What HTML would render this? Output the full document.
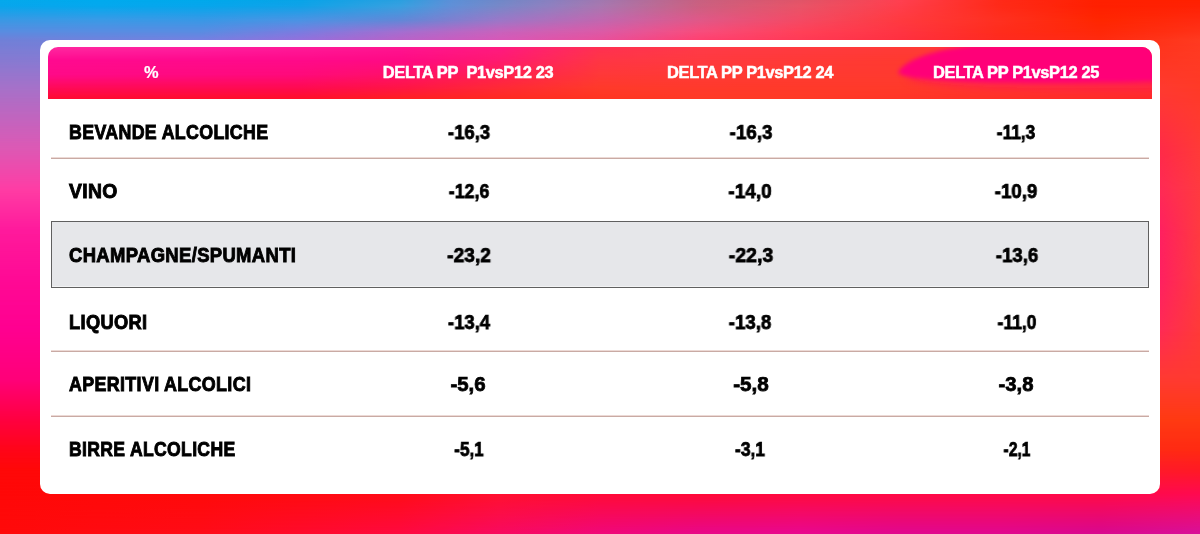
<!DOCTYPE html>
<html><head><meta charset="utf-8">
<style>
html,body{margin:0;padding:0;}
body{width:1200px;height:534px;overflow:hidden;position:relative;font-family:"Liberation Sans",Arial,sans-serif;}
.m{position:absolute;left:0;top:0;width:1200px;height:534px;}
#card{position:absolute;left:40px;top:40px;width:1120px;height:454px;background:#fff;border-radius:10px;}
#head{position:absolute;left:48px;top:47px;width:1104px;height:52px;border-radius:10px 10px 0 0;overflow:hidden;}
.hm{position:absolute;left:0;top:0;width:1104px;height:52px;}
#blob{position:absolute;left:0;top:0;}
.h{position:absolute;will-change:transform;top:61.9px;color:#fff;font-weight:bold;font-size:16.4px;line-height:20px;white-space:nowrap;transform:translateX(-50%);-webkit-text-stroke:0.5px #fff;letter-spacing:-0.35px;}
.lab{position:absolute;left:69px;font-weight:bold;font-size:21px;line-height:24px;color:#000;white-space:nowrap;transform-origin:0 50%;letter-spacing:0.4px;-webkit-text-stroke:0.95px #000;}
.num{position:absolute;will-change:transform;font-weight:bold;font-size:20px;line-height:24px;color:#000;white-space:nowrap;transform:translateX(-50%);letter-spacing:0px;-webkit-text-stroke:0.75px #000;}
.div{position:absolute;left:51px;width:1098px;height:2px;background:linear-gradient(180deg,#ecd9d5 0,#ecd9d5 50%,#c9aaa4 50%,#c9aaa4 100%);}
#hl{position:absolute;left:51px;top:221px;width:1096px;height:65px;background:#e6e7ea;border:1px solid #606060;box-shadow:inset 0 -1px 0 #f2f3f4;}
</style></head>
<body>
<div class="m" style="background:linear-gradient(90deg,#04a8ec 0px,#00aaee 100px,#00a8ec 200px,#08a4e8 300px,#2aa0e0 400px,#5a90d8 450px,#7088c8 500px,#8880c0 550px,#a078b0 600px,#c86080 700px,#e05468 800px,#ff4050 900px,#ff2a18 1000px,#ff2000 1100px,#ff2000 1200px)"></div>
<div class="m" style="background:linear-gradient(90deg,#08a6ec 0px,#04a8ee 100px,#06a6ec 200px,#10a2e8 300px,#38a0e0 400px,#6090d8 450px,#7888c8 500px,#9080c0 550px,#a878b0 600px,#cc6080 700px,#e85468 800px,#ff3e4c 900px,#ff2a18 1000px,#ff2000 1100px,#ff2204 1200px);-webkit-mask-image:linear-gradient(180deg,transparent 0px,#000 6px);mask-image:linear-gradient(180deg,transparent 0px,#000 6px)"></div>
<div class="m" style="background:linear-gradient(90deg,#3a98e4 0px,#3a9ae6 100px,#3898e6 200px,#4a94e4 300px,#6088d8 400px,#9a78c8 500px,#c068b0 600px,#e05888 700px,#f44a64 800px,#ff3a40 900px,#ff3020 1000px,#ff2600 1100px,#ff2a10 1200px);-webkit-mask-image:linear-gradient(180deg,transparent 6px,#000 20px);mask-image:linear-gradient(180deg,transparent 6px,#000 20px)"></div>
<div class="m" style="background:linear-gradient(90deg,#5a8ce0 0px,#5a8ce2 100px,#5a8ce2 200px,#7a7ce0 300px,#a46ed0 400px,#c862bc 500px,#dc5aa6 600px,#f84c7c 700px,#ff4058 800px,#ff3442 900px,#ff2c1c 1000px,#ff2808 1100px,#ff3218 1200px);-webkit-mask-image:linear-gradient(180deg,transparent 20px,#000 32px);mask-image:linear-gradient(180deg,transparent 20px,#000 32px)"></div>
<div class="m" style="background:linear-gradient(90deg,#7080d8 0px,#7082dc 100px,#7680e0 200px,#9470dc 300px,#b862c8 400px,#d858b8 500px,#e8509c 600px,#ff4070 700px,#ff3a56 800px,#ff3040 900px,#ff2a20 1000px,#ff2a10 1100px,#ff3a20 1200px);-webkit-mask-image:linear-gradient(180deg,transparent 32px,#000 40px);mask-image:linear-gradient(180deg,transparent 32px,#000 40px)"></div>
<div class="m" style="background:linear-gradient(90deg,#a870c8 0px,#a870c8 40px,#ff3a30 1160px,#ff3a28 1200px);-webkit-mask-image:linear-gradient(180deg,transparent 40px,#000 90px);mask-image:linear-gradient(180deg,transparent 40px,#000 90px)"></div>
<div class="m" style="background:linear-gradient(90deg,#de58b4 0px,#de58b4 40px,#ff2a48 1160px,#ff3a38 1200px);-webkit-mask-image:linear-gradient(180deg,transparent 90px,#000 150px);mask-image:linear-gradient(180deg,transparent 90px,#000 150px)"></div>
<div class="m" style="background:linear-gradient(90deg,#ff3ca4 0px,#ff3ca4 40px,#ff2a55 1160px,#ff3a40 1200px);-webkit-mask-image:linear-gradient(180deg,transparent 150px,#000 190px);mask-image:linear-gradient(180deg,transparent 150px,#000 190px)"></div>
<div class="m" style="background:linear-gradient(90deg,#ff1a9c 0px,#ff1a9c 40px,#ff2060 1160px,#ff3a40 1200px);-webkit-mask-image:linear-gradient(180deg,transparent 190px,#000 230px);mask-image:linear-gradient(180deg,transparent 190px,#000 230px)"></div>
<div class="m" style="background:linear-gradient(90deg,#ff0a95 0px,#ff0a95 40px,#ff2060 1160px,#ff3a40 1200px);-webkit-mask-image:linear-gradient(180deg,transparent 230px,#000 280px);mask-image:linear-gradient(180deg,transparent 230px,#000 280px)"></div>
<div class="m" style="background:linear-gradient(90deg,#ff0090 0px,#ff0090 40px,#ff2a55 1160px,#ff3a38 1200px);-webkit-mask-image:linear-gradient(180deg,transparent 280px,#000 330px);mask-image:linear-gradient(180deg,transparent 280px,#000 330px)"></div>
<div class="m" style="background:linear-gradient(90deg,#ff0078 0px,#ff0078 40px,#ff3a30 1160px,#ff3a30 1200px);-webkit-mask-image:linear-gradient(180deg,transparent 330px,#000 380px);mask-image:linear-gradient(180deg,transparent 330px,#000 380px)"></div>
<div class="m" style="background:linear-gradient(90deg,#ff0040 0px,#ff0040 40px,#ff3a12 1160px,#ff3a12 1200px);-webkit-mask-image:linear-gradient(180deg,transparent 380px,#000 420px);mask-image:linear-gradient(180deg,transparent 380px,#000 420px)"></div>
<div class="m" style="background:linear-gradient(90deg,#ff0518 0px,#ff0518 40px,#ff2a14 1160px,#ff2a12 1200px);-webkit-mask-image:linear-gradient(180deg,transparent 420px,#000 450px);mask-image:linear-gradient(180deg,transparent 420px,#000 450px)"></div>
<div class="m" style="background:linear-gradient(90deg,#ff0808 0px,#ff0808 40px,#ff1a28 1160px,#ff1a24 1200px);-webkit-mask-image:linear-gradient(180deg,transparent 450px,#000 470px);mask-image:linear-gradient(180deg,transparent 450px,#000 470px)"></div>
<div class="m" style="background:linear-gradient(90deg,#ff0808 0px,#ff0a0a 200px,#ff0c18 400px,#ff1030 500px,#ff0a38 600px,#ff0a38 700px,#ff0a40 800px,#ff0a45 900px,#ff0a48 1000px,#ff0a48 1100px,#ff0a50 1200px);-webkit-mask-image:linear-gradient(180deg,transparent 470px,#000 494px);mask-image:linear-gradient(180deg,transparent 470px,#000 494px)"></div>
<div class="m" style="background:linear-gradient(90deg,#ff0a0a 0px,#ff0c18 200px,#ff0a40 400px,#f80a60 500px,#f0087a 600px,#e8088a 700px,#e80890 800px,#e00890 900px,#e00890 1000px,#d80890 1100px,#d8109a 1200px);-webkit-mask-image:linear-gradient(180deg,transparent 494px,#000 534px);mask-image:linear-gradient(180deg,transparent 494px,#000 534px)"></div>
<div id="card"></div>
<div id="head"><div class="hm" style="background:linear-gradient(90deg,#ff2aa0 0px,#ff20a0 152px,#ff1590 352px,#ff1a80 452px,#ff3052 552px,#ff3a48 652px,#ff3a40 752px,#ff3a38 852px,#ff3a38 1104px)"></div>
<div class="hm" style="background:linear-gradient(90deg,#ff0a90 0px,#ff0a8a 252px,#ff0a85 352px,#ff1a70 452px,#ff3545 552px,#ff3a40 652px,#ff3a38 752px,#ff3a30 852px,#ff3a30 1104px);-webkit-mask-image:linear-gradient(180deg,transparent 0px,#000 13px);mask-image:linear-gradient(180deg,transparent 0px,#000 13px)"></div>
<div class="hm" style="background:linear-gradient(90deg,#ff0a88 0px,#ff0a7a 252px,#ff1068 352px,#ff2050 452px,#ff3838 552px,#ff3a35 652px,#ff3a30 752px,#ff3a30 852px,#ff3030 1104px);-webkit-mask-image:linear-gradient(180deg,transparent 13px,#000 28px);mask-image:linear-gradient(180deg,transparent 13px,#000 28px)"></div>
<div class="hm" style="background:linear-gradient(90deg,#ff0a58 0px,#ff0a50 252px,#ff1545 352px,#ff2a35 452px,#ff3a2a 552px,#ff3a2c 652px,#ff3a2a 752px,#ff3a2a 852px,#ff3030 1104px);-webkit-mask-image:linear-gradient(180deg,transparent 28px,#000 41px);mask-image:linear-gradient(180deg,transparent 28px,#000 41px)"></div>
<div class="hm" style="background:linear-gradient(90deg,#ff0a30 0px,#ff1028 252px,#ff2020 352px,#ff2a20 452px,#ff3520 552px,#ff3a25 652px,#ff3a25 752px,#ff2a2a 1104px);-webkit-mask-image:linear-gradient(180deg,transparent 41px,#000 52px);mask-image:linear-gradient(180deg,transparent 41px,#000 52px)"></div>
<svg id="blob" width="1104" height="52" viewBox="48 47 1104 52"><defs><filter id="fb" x="-20%" y="-50%" width="140%" height="200%"><feGaussianBlur stdDeviation="2.2"/></filter><filter id="fb2" x="-20%" y="-50%" width="140%" height="200%"><feGaussianBlur stdDeviation="5"/></filter></defs>
<path d="M905,77 C930,86 1000,90 1160,88 L1160,60 L960,60 Z" fill="#ff0a6a" opacity="0.5" filter="url(#fb2)"/>
<path d="M898,73 C903,61 930,50 975,45 L1160,40 L1160,81 C1080,83 1000,83 960,81 C930,79 906,79 898,73 Z" fill="#ff0478" filter="url(#fb)"/></svg>
</div>
<div class="h" style="left:151px;-webkit-text-stroke:0.2px #fff">%</div>
<div class="h" style="left:467.7px">DELTA PP&nbsp; P1vsP12 23</div>
<div class="h" style="left:749.5px">DELTA PP P1vsP12 24</div>
<div class="h" style="left:1015.5px">DELTA PP P1vsP12 25</div>

<div id="hl"></div>
<div class="div" style="top:157px"></div>
<div class="div" style="top:350px"></div>
<div class="div" style="top:415px"></div>

<div class="lab" style="top:120px;transform:scaleX(0.847)">BEVANDE ALCOLICHE</div>
<div class="num" style="top:120px;left:469.25px;transform:translateX(-50%) scaleX(0.924)">-16,3</div>
<div class="num" style="top:120px;left:750.70px;transform:translateX(-50%) scaleX(0.939)">-16,3</div>
<div class="num" style="top:120px;left:1016.20px;transform:translateX(-50%) scaleX(0.868)">-11,3</div>

<div class="lab" style="top:179px;transform:scaleX(0.921)">VINO</div>
<div class="num" style="top:179px;left:468.65px;transform:translateX(-50%) scaleX(0.889)">-12,6</div>
<div class="num" style="top:179px;left:750.35px;transform:translateX(-50%) scaleX(0.950)">-14,0</div>
<div class="num" style="top:179px;left:1016.25px;transform:translateX(-50%) scaleX(0.933)">-10,9</div>

<div class="lab" style="top:243px;transform:scaleX(0.878)">CHAMPAGNE/SPUMANTI</div>
<div class="num" style="top:243px;left:469.45px;transform:translateX(-50%) scaleX(0.959)">-23,2</div>
<div class="num" style="top:243px;left:750.50px;transform:translateX(-50%) scaleX(0.974)">-22,3</div>
<div class="num" style="top:243px;left:1016.55px;transform:translateX(-50%) scaleX(0.929)">-13,6</div>

<div class="lab" style="top:310px;transform:scaleX(0.869)">LIQUORI</div>
<div class="num" style="top:310px;left:468.55px;transform:translateX(-50%) scaleX(0.924)">-13,4</div>
<div class="num" style="top:310px;left:750.25px;transform:translateX(-50%) scaleX(0.933)">-13,8</div>
<div class="num" style="top:310px;left:1017.00px;transform:translateX(-50%) scaleX(0.878)">-11,0</div>

<div class="lab" style="top:372px;transform:scaleX(0.851)">APERITIVI ALCOLICI</div>
<div class="num" style="top:372px;left:468.25px;transform:translateX(-50%) scaleX(1.021)">-5,6</div>
<div class="num" style="top:372px;left:750.95px;transform:translateX(-50%) scaleX(1.033)">-5,8</div>
<div class="num" style="top:372px;left:1016.10px;transform:translateX(-50%) scaleX(1.013)">-3,8</div>

<div class="lab" style="top:437px;transform:scaleX(0.837)">BIRRE ALCOLICHE</div>
<div class="num" style="top:437px;left:468.95px;transform:translateX(-50%) scaleX(0.856)">-5,1</div>
<div class="num" style="top:437px;left:750.35px;transform:translateX(-50%) scaleX(0.874)">-3,1</div>
<div class="num" style="top:437px;left:1016.50px;transform:translateX(-50%) scaleX(0.785)">-2,1</div>
</body></html>
